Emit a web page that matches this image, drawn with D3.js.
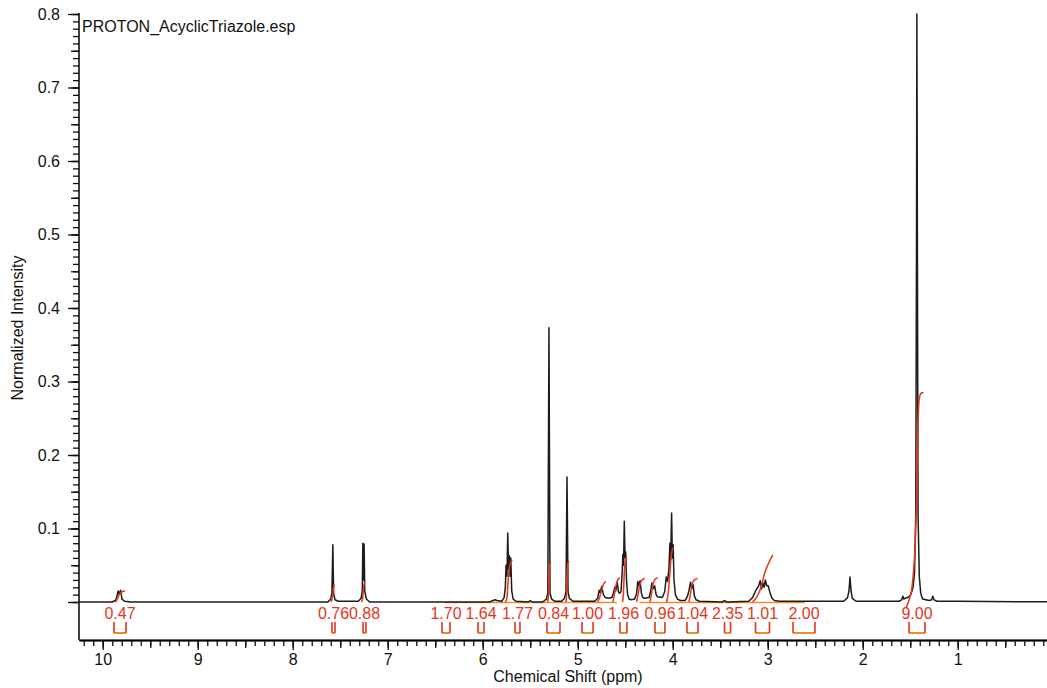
<!DOCTYPE html>
<html>
<head>
<meta charset="utf-8">
<script src="https://cdn.jsdelivr.net/npm/d3@7"></script>
<style>
  body { margin: 0; background: #fff; }
  svg { display: block; font-family: 'Liberation Sans', Arial, sans-serif; }
</style>
</head>
<body>
<svg id="chart" width="1047" height="688"></svg>
<script>
// 1H trace: [ppm, normalized intensity]
const spectrum = [
  [10.30, 0], [9.90, 0], [9.86, 0.003], [9.838, 0.015], [9.826, 0.011], [9.812, 0.016], [9.798, 0.004], [9.77, 0.001], [9.70, 0],
  [7.63, 0], [7.60, 0.004], [7.588, 0.012], [7.578, 0.078], [7.570, 0.012], [7.555, 0.003], [7.52, 0.001],
  [7.31, 0.001], [7.28, 0.005], [7.268, 0.016], [7.262, 0.080], [7.256, 0.03], [7.249, 0.079], [7.242, 0.015], [7.225, 0.004], [7.19, 0],
  [5.93, 0], [5.89, 0.002], [5.87, 0.003], [5.85, 0.002], [5.80, 0.001], [5.775, 0.006], [5.762, 0.02], [5.755, 0.05],
  [5.745, 0.035], [5.737, 0.094], [5.728, 0.045], [5.72, 0.063], [5.712, 0.035], [5.705, 0.06], [5.695, 0.015], [5.68, 0.004],
  [5.65, 0.001], [5.52, 0], [5.50, 0.002], [5.48, 0],
  [5.37, 0], [5.33, 0.004], [5.315, 0.012], [5.303, 0.373], [5.292, 0.012], [5.275, 0.004], [5.24, 0.001],
  [5.17, 0.001], [5.14, 0.005], [5.124, 0.014], [5.113, 0.170], [5.102, 0.014], [5.088, 0.005], [5.05, 0.001],
  [4.82, 0.001], [4.79, 0.005], [4.775, 0.016], [4.765, 0.013], [4.748, 0.021], [4.73, 0.01], [4.71, 0.006], [4.68, 0.005],
  [4.64, 0.006], [4.625, 0.012], [4.61, 0.02], [4.60, 0.015], [4.585, 0.027], [4.572, 0.014], [4.56, 0.012],
  [4.545, 0.014], [4.532, 0.04], [4.525, 0.065], [4.518, 0.05], [4.51, 0.110], [4.502, 0.06], [4.495, 0.068], [4.487, 0.03],
  [4.475, 0.01], [4.46, 0.004], [4.44, 0.003],
  [4.40, 0.004], [4.38, 0.012], [4.368, 0.028], [4.357, 0.022], [4.344, 0.029], [4.33, 0.012], [4.315, 0.006], [4.30, 0.005],
  [4.25, 0.006], [4.232, 0.015], [4.22, 0.026], [4.205, 0.018], [4.19, 0.022], [4.175, 0.01], [4.16, 0.007],
  [4.11, 0.006], [4.085, 0.014], [4.068, 0.034], [4.055, 0.028], [4.04, 0.045], [4.03, 0.08], [4.022, 0.058], [4.012, 0.121],
  [4.004, 0.06], [3.996, 0.078], [3.987, 0.03], [3.972, 0.01], [3.95, 0.004], [3.92, 0.002],
  [3.87, 0.002], [3.845, 0.008], [3.83, 0.015], [3.812, 0.027], [3.80, 0.018], [3.786, 0.024], [3.772, 0.008], [3.755, 0.003], [3.72, 0.001],
  [3.48, 0], [3.455, 0.002], [3.43, 0],
  [3.20, 0.001], [3.16, 0.006], [3.135, 0.013], [3.115, 0.018], [3.095, 0.022], [3.08, 0.029], [3.065, 0.018], [3.05, 0.026],
  [3.038, 0.02], [3.025, 0.03], [3.01, 0.022], [2.995, 0.022], [2.975, 0.012], [2.955, 0.005], [2.93, 0.002], [2.88, 0.001],
  [2.20, 0.001], [2.16, 0.006], [2.145, 0.015], [2.134, 0.034], [2.123, 0.015], [2.11, 0.005], [2.07, 0.001],
  [1.62, 0.001], [1.59, 0.003], [1.578, 0.008], [1.568, 0.004], [1.555, 0.005], [1.525, 0.006], [1.495, 0.01], [1.47, 0.02],
  [1.455, 0.04], [1.442, 0.12], [1.434, 0.5], [1.430, 0.80], [1.425, 0.5], [1.418, 0.12], [1.405, 0.035], [1.39, 0.012], [1.37, 0.004],
  [1.30, 0.002], [1.275, 0.003], [1.262, 0.008], [1.25, 0.003], [1.22, 0.001], [1.0, 0.001], [-0.2, 0]
];

// integral traces (red), same units
const integralCurves = [
  [[9.875, 0], [9.855, 0.002], [9.835, 0.008], [9.815, 0.012], [9.795, 0.014], [9.765, 0.015]],
  [[7.60, 0], [7.588, 0.003], [7.578, 0.012], [7.57, 0.02], [7.56, 0.023]],
  [[7.275, 0], [7.265, 0.004], [7.258, 0.014], [7.25, 0.024], [7.235, 0.028]],
  [[5.76, 0], [5.745, 0.006], [5.735, 0.025], [5.722, 0.045], [5.705, 0.054], [5.69, 0.057]],
  [[5.318, 0], [5.308, 0.01], [5.302, 0.035], [5.295, 0.05], [5.283, 0.054]],
  [[5.125, 0], [5.117, 0.01], [5.111, 0.035], [5.104, 0.052], [5.092, 0.056]],
  [[4.79, 0], [4.77, 0.006], [4.75, 0.016], [4.73, 0.024], [4.705, 0.028]],
  [[4.63, 0], [4.612, 0.012], [4.595, 0.024], [4.575, 0.031], [4.558, 0.033]],
  [[4.53, 0], [4.52, 0.01], [4.51, 0.04], [4.50, 0.056], [4.485, 0.062]],
  [[4.38, 0], [4.365, 0.01], [4.35, 0.022], [4.33, 0.029], [4.295, 0.032]],
  [[4.24, 0], [4.225, 0.01], [4.21, 0.023], [4.19, 0.03], [4.16, 0.033]],
  [[4.065, 0], [4.045, 0.015], [4.03, 0.04], [4.016, 0.062], [4.003, 0.072], [3.988, 0.074]],
  [[3.83, 0], [3.815, 0.01], [3.80, 0.022], [3.78, 0.029], [3.74, 0.032]],
  [[3.16, 0], [3.12, 0.006], [3.082, 0.016], [3.03, 0.04], [2.976, 0.057], [2.945, 0.064]],
  [[1.545, -0.008], [1.52, 0], [1.482, 0.02], [1.45, 0.075], [1.435, 0.13], [1.429, 0.17], [1.42, 0.234],
   [1.41, 0.27], [1.40, 0.28], [1.387, 0.284], [1.36, 0.285]]
];
const integralBase = [[6.40, 4.59], [4.35, 2.61]];

// integration brackets under the trace
const integralLabels = ['0.47', '0.76', '0.88', '1.70', '1.64', '1.77', '0.84', '1.00', '1.96', '0.96', '1.04', '2.35', '1.01', '2.00', '9.00'];
const integralFrom = [9.882, 7.587, 7.260, 6.429, 6.050, 5.660, 5.324, 4.955, 4.555, 4.187, 3.850, 3.455, 3.129, 2.734, 1.513];
const integralTo = [9.755, 7.555, 7.229, 6.345, 5.987, 5.608, 5.187, 4.839, 4.482, 4.082, 3.734, 3.392, 2.982, 2.503, 1.345];

const xTicks = [10, 9, 8, 7, 6, 5, 4, 3, 2, 1, 0];
const yTicks = [0, 0.1, 0.2, 0.3, 0.4, 0.5, 0.6, 0.7, 0.8];

const red = '#e5361d';
const orange = '#f08c2a';
const svg = d3.select('#chart');

const x = d3.scaleLinear().domain([10.25, 0]).range([79, 1052.75]);
const y = d3.scaleLinear().domain([0, 0.8]).range([602, 14]);
const axisY = 640;

svg.append('defs').append('clipPath').attr('id', 'plot')
  .append('rect').attr('x', 79).attr('y', 13).attr('width', 1000).attr('height', 640);

// x axis: minor / half / major ticks
const xMinor = d3.range(0, 103).map((d) => d / 10).filter((d) => d <= 10.2);
const xHalf = d3.range(0, 21).map((d) => d / 2);
const gx = svg.append('g').attr('transform', `translate(0,${axisY})`);
gx.append('g').call(d3.axisBottom(x).tickValues(xMinor).tickSize(6).tickSizeOuter(0).tickFormat(''));
gx.append('g').call(d3.axisBottom(x).tickValues(xHalf).tickSize(8).tickSizeOuter(0).tickFormat(''));
gx.append('g').call(d3.axisBottom(x).tickValues(xTicks).tickSize(10).tickSizeOuter(0).tickPadding(4).tickFormat(d3.format('d')));

// y axis
const yMinor = d3.range(0, 81).map((d) => d / 100);
const yHalf = d3.range(0, 17).map((d) => d / 20);
const gy = svg.append('g').attr('transform', 'translate(79,0)');
gy.append('g').call(d3.axisLeft(y).tickValues(yMinor).tickSize(6).tickSizeOuter(0).tickFormat(''));
gy.append('g').call(d3.axisLeft(y).tickValues(yHalf).tickSize(8).tickSizeOuter(0).tickFormat(''));
gy.append('g').call(d3.axisLeft(y).tickValues(yTicks).tickSize(11).tickSizeOuter(0).tickPadding(8)
  .tickFormat((d) => (d === 0 ? '' : d3.format('.1f')(d))));
gy.selectAll('.domain').remove();
gy.append('line').attr('x1', 0).attr('x2', 0).attr('y1', 13).attr('y2', axisY)
  .attr('stroke', '#000').attr('stroke-width', 1.5);

svg.selectAll('.tick line').attr('stroke', '#111').attr('stroke-width', 1.3);
svg.selectAll('.domain').attr('stroke', '#000').attr('stroke-width', 1.5);
svg.selectAll('.tick text').attr('font-size', 16).attr('fill', '#111')
  .attr('font-family', "'Liberation Sans', Arial, sans-serif");

// titles
svg.append('text').attr('x', 82).attr('y', 32).attr('font-size', 16).attr('fill', '#111')
  .text('PROTON_AcyclicTriazole.esp');
svg.append('text').attr('x', 568).attr('y', 682).attr('text-anchor', 'middle').attr('font-size', 16).attr('fill', '#111')
  .text('Chemical Shift (ppm)');
svg.append('text').attr('transform', 'translate(23,328) rotate(-90)').attr('text-anchor', 'middle')
  .attr('font-size', 16).attr('fill', '#111').text('Normalized Intensity');

const plot = svg.append('g').attr('clip-path', 'url(#plot)');
const line = d3.line().x((d) => x(d[0])).y((d) => y(d[1]));

// integral baselines sit under the trace
plot.selectAll('line.ibase').data(integralBase).join('line').classed('ibase', true)
  .attr('x1', (d) => x(d[0])).attr('x2', (d) => x(d[1]))
  .attr('y1', y(0) + 0.5).attr('y2', y(0) + 0.5)
  .attr('stroke', orange).attr('stroke-width', 1.5);

plot.append('path').datum(spectrum).attr('d', line)
  .attr('fill', 'none').attr('stroke', '#1c1c1c').attr('stroke-width', 1.5).attr('stroke-linejoin', 'round');

plot.selectAll('path.integral').data(integralCurves).join('path').classed('integral', true)
  .attr('d', d3.line().x((d) => x(d[0])).y((d) => y(d[1])).curve(d3.curveMonotoneX))
  .attr('fill', 'none').attr('stroke', red).attr('stroke-width', 1.5);

// brackets + values
const integrals = integralLabels.map((t, i) => ({ label: t, from: integralFrom[i], to: integralTo[i] }));
const br = svg.append('g').selectAll('g').data(integrals).join('g');
br.append('line').attr('x1', (d) => x(d.from)).attr('x2', (d) => x(d.to))
  .attr('y1', 633).attr('y2', 633).attr('stroke', orange).attr('stroke-width', 2);
br.append('path').attr('d', (d) => `M${x(d.from)},622V633M${x(d.to)},622V633`)
  .attr('stroke', red).attr('stroke-width', 1.6).attr('fill', 'none');
br.append('text').attr('x', (d) => (x(d.from) + x(d.to)) / 2).attr('y', 619)
  .attr('text-anchor', 'middle').attr('font-size', 16).attr('fill', red)
  .text((d) => d.label);
</script>
</body>
</html>
